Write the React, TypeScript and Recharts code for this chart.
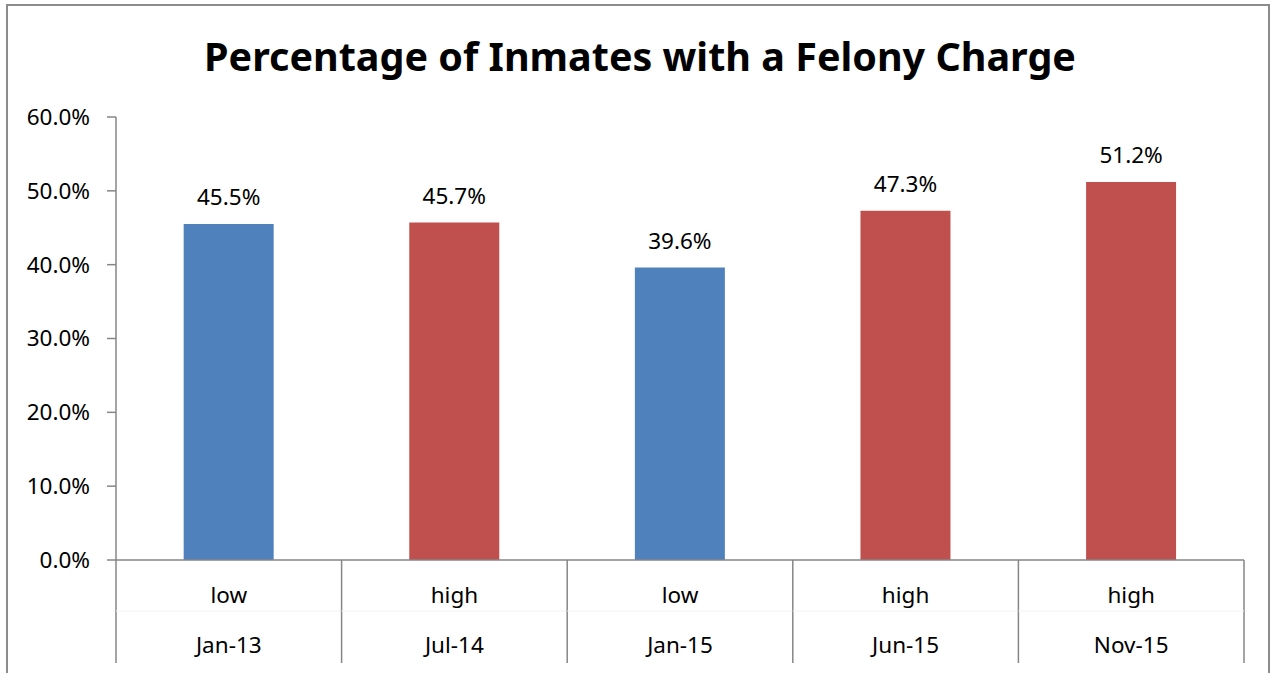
import React from 'react';
import { BarChart, Bar, XAxis, YAxis, LabelList, Cell } from 'recharts';

const categories = ['Jan-13', 'Jul-14', 'Jan-15', 'Jun-15', 'Nov-15'];
const levels = ['low', 'high', 'low', 'high', 'high'];
const values = [0.455, 0.457, 0.396, 0.473, 0.512];
const yTicks = [0, 0.1, 0.2, 0.3, 0.4, 0.5, 0.6];

const levelColor: Record<string, string> = {
  low: '#4F81BD',
  high: '#C0504D',
};

const FONT = '"Noto Sans", sans-serif';
const AXIS = '#868686';
const W = 1276;
const H = 673;
const Y_AXIS_W = 116;
const X_AXIS_H = 113;
const margin = { top: 117, right: 32, left: 0, bottom: 0 };
const band = (W - Y_AXIS_W - margin.right) / categories.length;

const data = categories.map((date, i) => ({
  date,
  level: levels[i],
  value: values[i],
}));

const pct = (v: number) => `${(v * 100).toFixed(1)}%`;

// two rows of category labels with separators between the categories
const TwoLevelTick = (props: any) => {
  const { x, y, payload, index } = props;
  const row = data[index] ?? data[payload.index];
  const left = x - band / 2;
  return (
    <g>
      <line x1={left} y1={y} x2={left} y2={y + 103} stroke={AXIS} strokeWidth={1.5} />
      {index === data.length - 1 && (
        <line x1={x + band / 2} y1={y} x2={x + band / 2} y2={y + 103} stroke={AXIS} strokeWidth={1.5} />
      )}
      <line x1={left} y1={y + 51} x2={left + band} y2={y + 51} stroke="#F2F2F2" strokeWidth={1} />
      <text x={x} y={y + 34} textAnchor="middle" dominantBaseline="central" fontFamily={FONT} fontSize={22.5} fill="#000">
        {row.level}
      </text>
      <text x={x} y={y + 84} textAnchor="middle" dominantBaseline="central" fontFamily={FONT} fontSize={22.5} fill="#000">
        {row.date}
      </text>
    </g>
  );
};

export default function App() {
  return (
    <div style={{ position: 'absolute', left: 0, top: 0, width: W, height: H, background: '#fff' }}>
      <div
        style={{
          position: 'absolute',
          left: 6,
          top: 4,
          width: 1264,
          height: 700,
          border: '2px solid #8C8C8C',
          boxSizing: 'border-box',
        }}
      />
      <div
        style={{
          position: 'absolute',
          left: 0,
          top: 31,
          width: 1280,
          textAlign: 'center',
          fontFamily: FONT,
          fontWeight: 700,
          fontSize: 39.5,
          lineHeight: '50px',
          color: '#000',
        }}
      >
        Percentage of Inmates with a Felony Charge
      </div>
      <BarChart
        width={W}
        height={H}
        data={data}
        margin={margin}
        barCategoryGap="30%"
        style={{ position: 'absolute', left: 0, top: 0 }}
      >
        <XAxis
          dataKey="date"
          interval={0}
          axisLine={{ stroke: AXIS, strokeWidth: 1.5 }}
          tickLine={false}
          tickSize={0}
          tickMargin={0}
          height={X_AXIS_H}
          tick={<TwoLevelTick />}
        />
        <YAxis
          domain={[0, 0.6]}
          ticks={yTicks}
          interval={0}
          tickFormatter={pct}
          axisLine={{ stroke: AXIS, strokeWidth: 1.5 }}
          tickLine={{ stroke: AXIS, strokeWidth: 1.5 }}
          tickSize={9}
          tickMargin={17}
          width={Y_AXIS_W}
          tick={{ fontFamily: FONT, fontSize: 22.5, fill: '#000' }}
        />
        <Bar dataKey="value" isAnimationActive={false}>
          {data.map((d, i) => (
            <Cell key={`cell-${i}`} fill={levelColor[d.level]} />
          ))}
          <LabelList
            dataKey="value"
            position="top"
            offset={19}
            formatter={(v: any) => pct(Number(v))}
            style={{ fontFamily: FONT, fontSize: 22.5, fill: '#000' }}
          />
        </Bar>
      </BarChart>
    </div>
  );
}
